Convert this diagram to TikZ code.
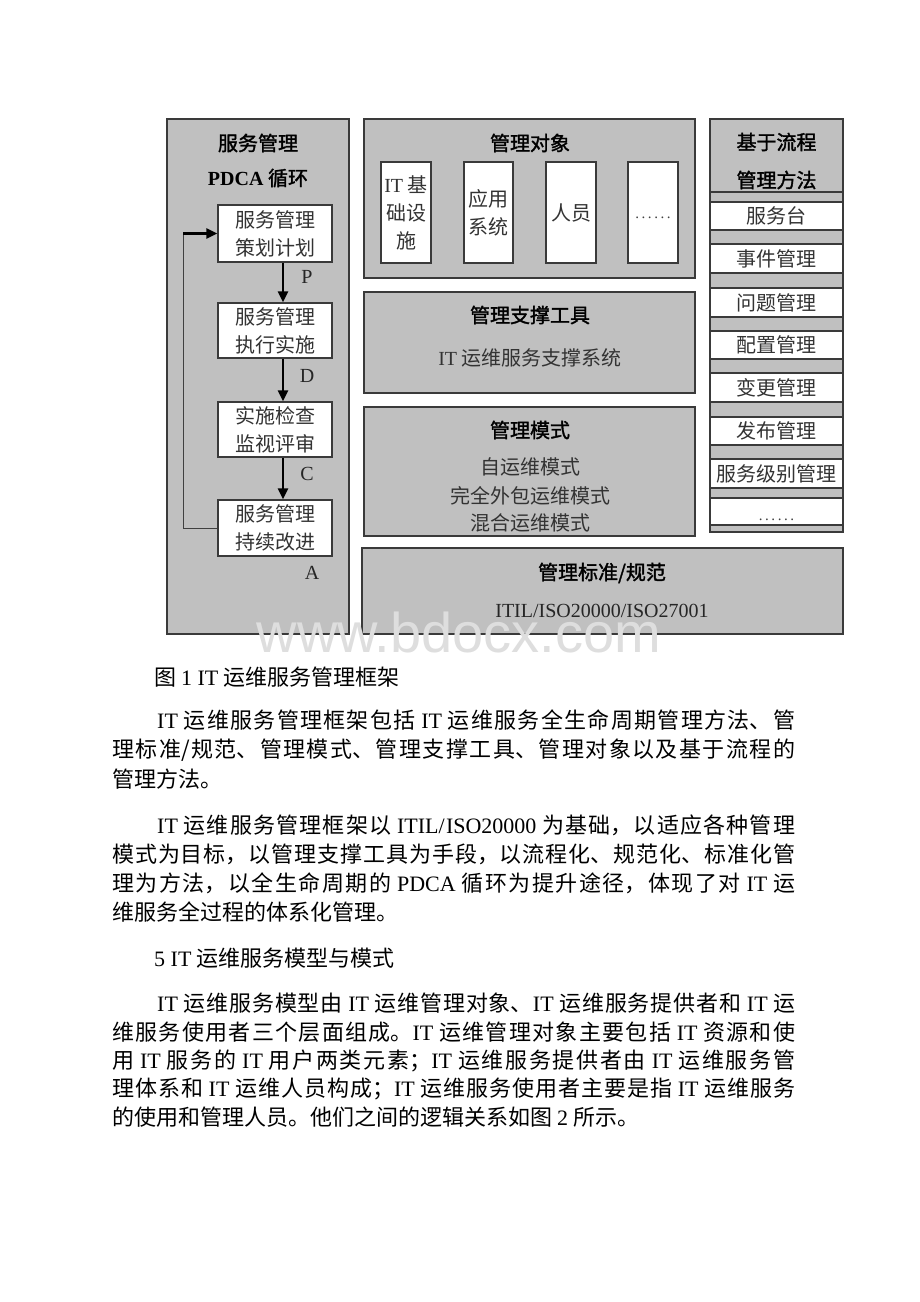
\documentclass[tikz,border=0pt]{standalone}
\usepackage{fontspec}
\usetikzlibrary{arrows.meta}
\setmainfont{Noto Sans CJK SC}
\newfontfamily\tfont{Noto Sans CJK SC}[FakeBold=1.6]
\newfontfamily\en{Liberation Serif}
\newfontfamily\wmfont{Liberation Sans}
\newcommand\E[1]{{\en #1}}
\newcommand\EB[1]{{\en\bfseries #1}}
\newcommand\sixdots{{\en .\hspace{2.6pt}.\hspace{2.6pt}.\hspace{2.6pt}.\hspace{2.6pt}.\hspace{2.6pt}.}}
\XeTeXlinebreaklocale "zh"
\XeTeXlinebreakskip=0pt plus 4pt
\definecolor{panel}{HTML}{C0C0C0}
\definecolor{edge}{HTML}{3A3A3A}
\definecolor{wm}{HTML}{DEDEDE}
\newcommand\jline[2]{\parbox[b]{#1}{\tolerance=10000\parfillskip=0pt\relax #2}}
\tikzset{
  panelbox/.style={draw=edge, fill=panel, line width=1.4pt},
  whitebox/.style={draw=edge, fill=white, line width=1.2pt},
  figtxt/.style={font=\fontsize{20}{28}\selectfont, text=black!80, inner sep=0pt},
  titletxt/.style={font=\tfont\fontsize{20}{28}\selectfont, text=black, inner sep=0pt},
  lbl/.style={font=\en\fontsize{20}{24}\selectfont, text=black!85, inner sep=0pt},
  dotlbl/.style={font=\fontsize{15}{18}\selectfont, text=black!75, inner sep=0pt, anchor=base},
  flowarrow/.style={-{Triangle[length=11pt,width=10pt]}, line width=2.6pt, draw=black},
  backline/.style={line width=1pt, draw=black!75},
  bodytxt/.style={font=\fontsize{22}{29}\selectfont, text=black, anchor=base west, inner sep=0pt},
}
\begin{document}
\begin{tikzpicture}[x=1pt,y=-1pt]
\useasboundingbox (0,0) rectangle (920,1302);
\fill[white] (0,0) rectangle (920,1302);

% ---------------- left panel: PDCA ----------------
\draw[panelbox] (167,119) rectangle (349,634);
\node[titletxt] (lpt1) at (258,143) {服务管理};
\node[titletxt] (lpt2) at (258,178) {\EB{PDCA} 循环};
\node[whitebox, figtxt, align=center, minimum width=114pt, minimum height=57pt] (b1) at (275,233.5) {服务管理\\策划计划};
\node[whitebox, figtxt, align=center, minimum width=114pt, minimum height=55pt] (b2) at (275,330.5) {服务管理\\执行实施};
\node[whitebox, figtxt, align=center, minimum width=114pt, minimum height=55pt] (b3) at (275,429.5) {实施检查\\监视评审};
\node[whitebox, figtxt, align=center, minimum width=114pt, minimum height=56pt] (b4) at (275,528) {服务管理\\持续改进};
\coordinate (ax) at (283,0);
\coordinate (fb) at (183,0);
\draw[flowarrow] (b1.south -| ax) -- (b2.north -| ax);
\draw[flowarrow] (b2.south -| ax) -- (b3.north -| ax);
\draw[flowarrow] (b3.south -| ax) -- (b4.north -| ax);
\draw[backline] (b4.west) -| (fb |- b1.west);
\draw[flowarrow] (fb |- b1.west) -- (b1.west);
\node[lbl] (lp) at (307,277) {P};
\node[lbl] (ld) at (307,376) {D};
\node[lbl] (lc) at (307,474) {C};
\node[lbl] (la) at (312,573) {A};

% ---------------- management objects ----------------
\draw[panelbox] (364,119) rectangle (695,278);
\node[titletxt] (mot) at (530,143) {管理对象};
\node[whitebox, figtxt, align=center, minimum width=50pt, minimum height=101pt] (oa) at (406,212.5) {\E{IT} 基\\础设\\施};
\node[whitebox, figtxt, align=center, minimum width=49pt, minimum height=101pt] (ob) at (488.5,212.5) {应用\\系统};
\node[whitebox, figtxt, align=center, minimum width=50pt, minimum height=101pt] (oc) at (571,212.5) {人员};
\node[whitebox, minimum width=50pt, minimum height=101pt] (od) at (653,212.5) {};
\node[dotlbl] (odt) at (653,218) {\sixdots};

% ---------------- support tools ----------------
\draw[panelbox] (364,292) rectangle (695,393);
\node[titletxt] (stt) at (530,315) {管理支撑工具};
\node[figtxt] (sts) at (530,358) {\E{IT} 运维服务支撑系统};

% ---------------- management modes ----------------
\draw[panelbox] (364,407) rectangle (695,536);
\node[titletxt] (mmt) at (530,430) {管理模式};
\node[figtxt] (mm1) at (530,467) {自运维模式};
\node[figtxt] (mm2) at (530,496) {完全外包运维模式};
\node[figtxt] (mm3) at (530,523) {混合运维模式};

% ---------------- standards ----------------
\draw[panelbox] (362,548) rectangle (843,634);
\node[titletxt] (sdt) at (602,573) {管理标准/规范};
\node[lbl] (sds) at (602,611) {ITIL/ISO20000/ISO27001};

% ---------------- process methods ----------------
\draw[panelbox] (710,119) rectangle (843,532);
\draw[draw=edge, line width=1.2pt] (710,192) -- (843,192);
\node[titletxt] (pmt1) at (776.5,142) {基于流程};
\node[titletxt] (pmt2) at (776.5,180) {管理方法};
\node[whitebox, figtxt, minimum width=133pt, minimum height=28pt] (p1) at (776.5,216) {服务台};
\node[whitebox, figtxt, minimum width=133pt, minimum height=29pt] (p2) at (776.5,258.5) {事件管理};
\node[whitebox, figtxt, minimum width=133pt, minimum height=29pt] (p3) at (776.5,302.5) {问题管理};
\node[whitebox, figtxt, minimum width=133pt, minimum height=28pt] (p4) at (776.5,345) {配置管理};
\node[whitebox, figtxt, minimum width=133pt, minimum height=29pt] (p5) at (776.5,387.5) {变更管理};
\node[whitebox, figtxt, minimum width=133pt, minimum height=28pt] (p6) at (776.5,431) {发布管理};
\node[whitebox, figtxt, minimum width=133pt, minimum height=29pt] (p7) at (776.5,473.5) {服务级别管理};
\node[whitebox, minimum width=133pt, minimum height=27pt] (p8) at (776.5,511.5) {};
\node[dotlbl] (p8t) at (776.5,520) {\sixdots};

% ---------------- watermark ----------------
\node[font=\wmfont\fontsize{56}{60}\selectfont, text=wm, inner sep=0pt] (wmk) at (459,632) {www.bdocx.com};

% ---------------- body text ----------------
\node[bodytxt] (cap) at (154,685) {图 \E{1 IT} 运维服务管理框架};

\node[bodytxt] (a1) at (157,728) {\jline{638pt}{\E{IT} 运维服务管理框架包括 \E{IT} 运维服务全生命周期管理方法、管}};
\node[bodytxt] (a2) at (112,757) {\jline{683pt}{理标准/规范、管理模式、管理支撑工具、管理对象以及基于流程的}};
\node[bodytxt] (a3) at (112,787) {管理方法。};

\node[bodytxt] (b1l) at (157,833) {\jline{638pt}{\E{IT} 运维服务管理框架以 \E{ITIL/ISO20000} 为基础，以适应各种管理}};
\node[bodytxt] (b2l) at (112,862) {\jline{683pt}{模式为目标，以管理支撑工具为手段，以流程化、规范化、标准化管}};
\node[bodytxt] (b3l) at (112,891) {\jline{683pt}{理为方法，以全生命周期的 \E{PDCA} 循环为提升途径，体现了对 \E{IT} 运}};
\node[bodytxt] (b4l) at (112,920) {维服务全过程的体系化管理。};

\node[bodytxt] (hd) at (154,966) {\E{5 IT} 运维服务模型与模式};

\node[bodytxt] (c1) at (157,1011) {\jline{638pt}{\E{IT} 运维服务模型由 \E{IT} 运维管理对象、\E{IT} 运维服务提供者和 \E{IT} 运}};
\node[bodytxt] (c2) at (112,1040) {\jline{683pt}{维服务使用者三个层面组成。\E{IT} 运维管理对象主要包括 \E{IT} 资源和使}};
\node[bodytxt] (c3) at (112,1068) {\jline{683pt}{用 \E{IT} 服务的 \E{IT} 用户两类元素；\E{IT} 运维服务提供者由 \E{IT} 运维服务管}};
\node[bodytxt] (c4) at (112,1096) {\jline{683pt}{理体系和 \E{IT} 运维人员构成；\E{IT} 运维服务使用者主要是指 \E{IT} 运维服务}};
\node[bodytxt] (c5) at (112,1125) {的使用和管理人员。他们之间的逻辑关系如图 \E{2} 所示。};
\end{tikzpicture}
\end{document}
